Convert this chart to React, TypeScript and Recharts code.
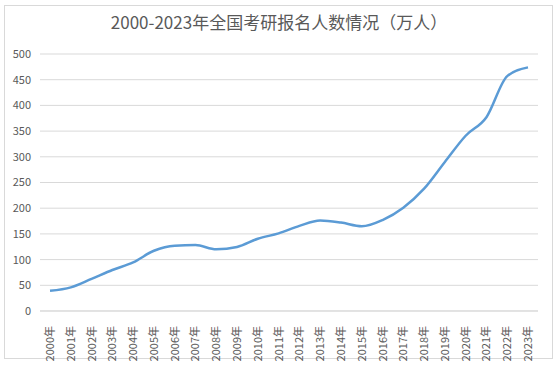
import * as React from "react";
import { LineChart, Line, XAxis, YAxis, CartesianGrid } from "recharts";

// 全国考研报名人数（万人）
const years = [
  "2000年", "2001年", "2002年", "2003年", "2004年", "2005年", "2006年", "2007年",
  "2008年", "2009年", "2010年", "2011年", "2012年", "2013年", "2014年", "2015年",
  "2016年", "2017年", "2018年", "2019年", "2020年", "2021年", "2022年", "2023年",
];
const applicants = [
  39.2, 46, 62.4, 79.7, 94.5, 117.2, 127.1, 128.2, 120, 124.6, 140.6, 151.1,
  165.6, 176, 172, 164.9, 177, 201, 238, 290, 341, 377, 457, 474,
];
const yTicks = [0, 50, 100, 150, 200, 250, 300, 350, 400, 450, 500];

const title = "2000-2023年全国考研报名人数情况（万人）";
const font = "'Noto Sans CJK SC', 'Noto Sans', sans-serif";

function YearTick(props: any) {
  const { x, y, payload } = props;
  return (
    <text
      x={0}
      y={0}
      transform={`translate(${x + 4},${y + 7}) rotate(-90)`}
      textAnchor="end"
      fontSize={11}
      fill="#595959"
      fontFamily={font}
    >
      {payload.value}
    </text>
  );
}

export default function App() {
  const data = React.useMemo(
    () => years.map((y, i) => ({ name: y, value: applicants[i] })),
    []
  );

  return (
    <div style={{ position: "absolute", left: 0, top: 0, width: 558, height: 365, background: "#fff" }}>
      <div
        style={{
          position: "absolute",
          left: 4,
          top: 5,
          width: 549,
          height: 354,
          border: "1px solid #D9D9D9",
          boxSizing: "border-box",
        }}
      />
      <div
        style={{
          position: "absolute",
          left: 0,
          top: 10,
          width: 558,
          textAlign: "center",
          fontFamily: font,
          fontSize: 17,
          color: "#595959",
          lineHeight: "24px",
        }}
      >
        {title}
      </div>
      <div style={{ position: "absolute", left: 0, top: 0 }}>
        <LineChart
          width={558}
          height={365}
          data={data}
          margin={{ top: 54, right: 20, bottom: 0, left: 0 }}
        >
          <CartesianGrid vertical={false} stroke="#D9D9D9" />
          <XAxis
            dataKey="name"
            interval={0}
            height={54}
            padding={{ left: 10, right: 10 }}
            axisLine={{ stroke: "#D9D9D9" }}
            tickLine={false}
            tick={<YearTick />}
          />
          <YAxis
            width={40}
            domain={[0, 500]}
            ticks={yTicks}
            axisLine={false}
            tickLine={false}
            tickSize={0}
            tickMargin={9}
            tick={{ fontSize: 11, fill: "#595959", fontFamily: font }}
          />
          <Line
            type="monotone"
            dataKey="value"
            stroke="#5B9BD5"
            strokeWidth={2.5}
            dot={false}
            isAnimationActive={false}
          />
        </LineChart>
      </div>
    </div>
  );
}
